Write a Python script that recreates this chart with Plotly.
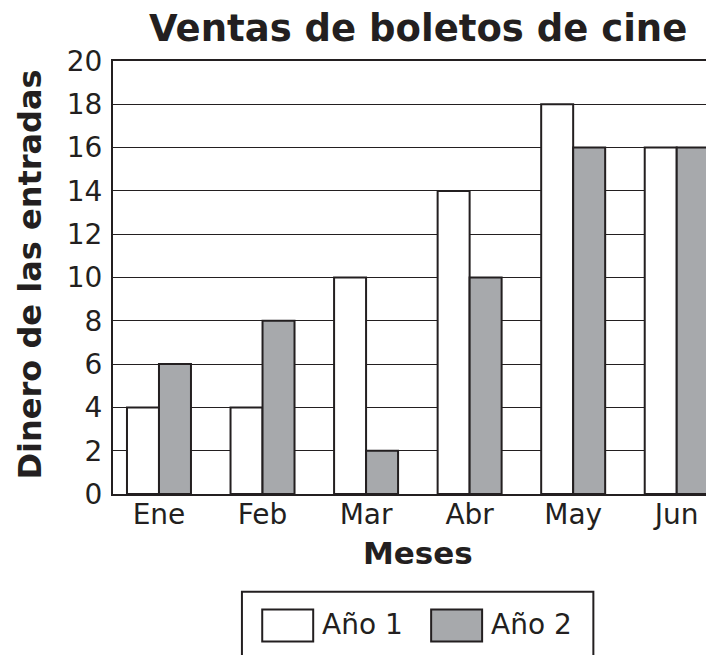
import plotly.graph_objects as go

months = ["Ene", "Feb", "Mar", "Abr", "May", "Jun"]
year1 = [4, 4, 10, 14, 18, 16]
year2 = [6, 8, 2, 10, 16, 16]
series_names = ["Año 1", "Año 2"]
y_ticks = list(range(0, 21, 2))

INK = "#231f20"
GREY = "#a7a9ac"
FONT = "DejaVu Sans"

# page has an 8px body margin; figure drawn so screen coords match the reference
OFF = 8
W, H = 714 - OFF, 655 - OFF
L, T, R, B = 112.7, 60.7, 714.0, 494.0  # plot area in screen pixels

def px(x):
    return (x - L) / (R - L)

def py(y):
    return (B - y) / (B - T)

fig = go.Figure()
fig.add_trace(go.Bar(x=months, y=year1, name=series_names[0], marker=dict(color="white", line=dict(color=INK, width=2)), showlegend=False))
fig.add_trace(go.Bar(x=months, y=year2, name=series_names[1], marker=dict(color=GREY, line=dict(color=INK, width=2)), showlegend=False))

fig.update_layout(
    width=W, height=H,
    margin=dict(l=L - OFF, r=0, t=T - OFF, b=655 - B, pad=0),
    paper_bgcolor="white", plot_bgcolor="white",
    barmode="group", bargap=0.382, bargroupgap=0,
    font=dict(family=FONT, color=INK, size=28),
    showlegend=False,
)
fig.update_xaxes(range=[-0.444, 5.36], showline=True, linecolor=INK, linewidth=2, mirror=True,
                 ticks="", tickfont=dict(size=28, color=INK), showgrid=False, ticklabelstandoff=-6)
fig.update_yaxes(range=[0, 20], tickvals=y_ticks, showline=True, linecolor=INK, linewidth=2,
                 ticks="", tickfont=dict(size=28, color=INK), showgrid=True, gridcolor=INK, gridwidth=1,
                 zeroline=False, ticklabelstandoff=3)

annotations = [
    dict(text="<b>Ventas de boletos de cine</b>", x=px(418), y=py(28), xref="paper", yref="paper",
         showarrow=False, font=dict(size=37, family=FONT, color=INK), xanchor="center", yanchor="middle"),
    dict(text="<b>Dinero de las entradas</b>", x=px(30), y=py(274), xref="paper", yref="paper",
         showarrow=False, textangle=-90, font=dict(size=32, family=FONT, color=INK), xanchor="center", yanchor="middle"),
    dict(text="<b>Meses</b>", x=px(418), y=py(553), xref="paper", yref="paper",
         showarrow=False, font=dict(size=31, family=FONT, color=INK), xanchor="center", yanchor="middle"),
    dict(text=series_names[0], x=px(320), y=py(625), xref="paper", yref="paper",
         showarrow=False, font=dict(size=28, family=FONT, color=INK), xanchor="left", yanchor="middle"),
    dict(text=series_names[1], x=px(489), y=py(625), xref="paper", yref="paper",
         showarrow=False, font=dict(size=28, family=FONT, color=INK), xanchor="left", yanchor="middle"),
]
shapes = [
    dict(type="rect", xref="paper", yref="paper", x0=px(241.7), x1=px(593.3), y0=py(680), y1=py(591.7),
         line=dict(color=INK, width=2), fillcolor="white", layer="above"),
    dict(type="rect", xref="paper", yref="paper", x0=px(262), x1=px(313), y0=py(641.5), y1=py(609.5),
         line=dict(color=INK, width=2), fillcolor="white", layer="above"),
    dict(type="rect", xref="paper", yref="paper", x0=px(431), x1=px(482), y0=py(641.5), y1=py(609.5),
         line=dict(color=INK, width=2), fillcolor=GREY, layer="above"),
]
fig.update_layout(annotations=annotations, shapes=shapes)
fig.write_html("out.html")
